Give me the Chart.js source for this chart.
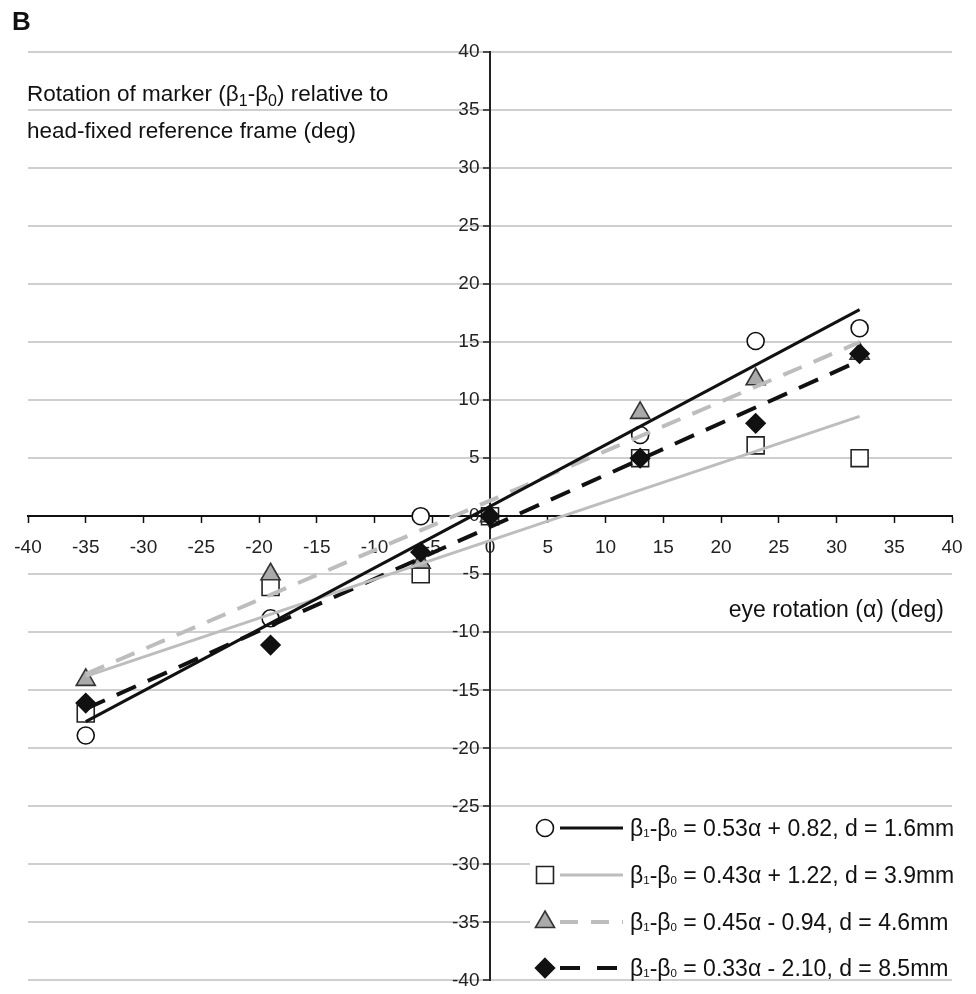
<!DOCTYPE html>
<html>
<head>
<meta charset="utf-8">
<script src="https://cdn.jsdelivr.net/npm/chart.js@4.4.1/dist/chart.umd.min.js"></script>
<style>
  html,body{margin:0;padding:0;background:#fff;}
  #wrap{width:976px;height:994px;}
</style>
</head>
<body>
<div id="wrap"><canvas id="chart" width="976" height="994"></canvas></div>
<script>
/* eye rotation vs marker rotation – panel B */

// eye rotation (alpha) where the markers sit
const alphaVals   = [-35, -19, -6, 0, 13, 23, 32];
// marker rotation per recording
const circleVals  = [-18.9, -8.8, 0, 0, 7, 15.1, 16.2];
const squareVals  = [-17, -6.1, -5, 0, 5, 6.1, 5];
const triVals     = [-14.1, -5, -4, 0, 8.9, 11.8, 14];
const diamondVals = [-16.1, -11.1, -3.1, 0, 5, 8, 14];

// fitted lines, end points as drawn
const fitX        = [-35, 32];
const fitBlack    = [-17.7, 17.8];
const fitGray     = [-13.8, 8.6];
const fitGrayDash = [-13.6, 15.0];
const fitBlackDash= [-16.6, 13.4];

const ticksX = [-40,-35,-30,-25,-20,-15,-10,-5,0,5,10,15,20,25,30,35,40];
const ticksY = [-40,-35,-30,-25,-20,-15,-10,-5,0,5,10,15,20,25,30,35,40];

const legendLabels = [
  '= 0.53\u03b1 + 0.82, d = 1.6mm',
  '= 0.43\u03b1 + 1.22, d = 3.9mm',
  '= 0.45\u03b1 - 0.94, d = 4.6mm',
  '= 0.33\u03b1 - 2.10, d = 8.5mm'
];

const FONT='"Liberation Sans", Arial, sans-serif';
const pts=v=>alphaVals.map((a,i)=>({x:a,y:v[i]}));
const fit=v=>fitX.map((a,i)=>({x:a,y:v[i]}));

const GRAY='#bdbdbd';

function markerDs(label,vals,style,r,bg,bd,order){
  return {label,data:pts(vals),pointStyle:style,pointRadius:r,pointHoverRadius:r,
    backgroundColor:bg,borderColor:bd,borderWidth:1.6,showLine:false,order};
}
function lineDs(label,vals,color,w,dash){
  return {label,data:fit(vals),showLine:true,borderColor:color,borderWidth:w,
    borderDash:dash||[],pointRadius:0,pointHoverRadius:0,fill:false,order:1};
}

/* rich text with subscripts */
function richText(ctx,parts,x,y,size,subSize,subDy){
  for(const p of parts){
    ctx.font=(p.sub?subSize:size)+'px '+FONT;
    ctx.fillText(p.t,x,y+(p.sub?subDy:0));
    x+=ctx.measureText(p.t).width;
  }
  return x;
}

function drawMarker(ctx,style,x,y,r,bg,bd){
  ctx.save();ctx.fillStyle=bg;ctx.strokeStyle=bd;ctx.lineWidth=1.6;ctx.beginPath();
  if(style==='circle'){ctx.arc(x,y,r,0,Math.PI*2);}
  else if(style==='rect'){const s=Math.SQRT1_2*r;ctx.rect(x-s,y-s,2*s,2*s);}
  else if(style==='triangle'){
    ctx.moveTo(x,y-r);ctx.lineTo(x+r*Math.cos(Math.PI/6),y+r/2);ctx.lineTo(x-r*Math.cos(Math.PI/6),y+r/2);ctx.closePath();
  }
  else {ctx.moveTo(x,y-r);ctx.lineTo(x+r,y);ctx.lineTo(x,y+r);ctx.lineTo(x-r,y);ctx.closePath();}
  ctx.fill();ctx.stroke();ctx.restore();
}

const decor={
  id:'decor',
  afterDraw(chart){
    const ctx=chart.ctx;
    ctx.save();
    ctx.fillStyle='#111';ctx.textBaseline='alphabetic';ctx.textAlign='left';
    ctx.font='bold 26px '+FONT;
    ctx.fillText('B',12,30);
    richText(ctx,[{t:'Rotation of marker (\u03b2'},{t:'1',sub:true},{t:'-\u03b2'},{t:'0',sub:true},{t:') relative to'}],27,101,22.5,16,5);
    richText(ctx,[{t:'head-fixed reference frame (deg)'}],27,138,22.5,16,5);
    ctx.font='23px '+FONT;ctx.textAlign='right';
    ctx.fillText('eye rotation (\u03b1) (deg)',944,617);
    ctx.textAlign='left';

    // legend
    ctx.fillStyle='#fff';
    ctx.fillRect(530,812,428,166);
    const rows=[828,875,922,968];
    const mk=[['circle',8.5,'#fff','#111'],['rect',12,'#fff','#222'],['triangle',11,'#aaa','#333'],['rectRot',9.5,'#111','#111']];
    const ln=[['#111',3,[]],[GRAY,3,[]],[GRAY,4,[18,13]],['#111',4,[20,17]]];
    rows.forEach((y,i)=>{
      drawMarker(ctx,mk[i][0],545,y,mk[i][1],mk[i][2],mk[i][3]);
      ctx.save();ctx.strokeStyle=ln[i][0];ctx.lineWidth=ln[i][1];ctx.setLineDash(ln[i][2]);
      ctx.beginPath();ctx.moveTo(560,y);ctx.lineTo(623,y);ctx.stroke();ctx.restore();
      ctx.fillStyle='#111';
      richText(ctx,[{t:'\u03b2'},{t:'1',sub:true},{t:'-\u03b2'},{t:'0',sub:true},{t:' '+legendLabels[i]}],630,y+8,23,11.5,1);
    });
    ctx.restore();
  }
};

new Chart(document.getElementById('chart'),{
  type:'scatter',
  data:{datasets:[
    lineDs('fit circle',fitBlack,'#111',3),
    lineDs('fit square',fitGray,GRAY,3),
    lineDs('fit triangle',fitGrayDash,GRAY,4,[20,13]),
    lineDs('fit diamond',fitBlackDash,'#111',4,[21,13]),
    markerDs('d = 8.5mm',diamondVals,'rectRot',9.5,'#111','#111',2),
    markerDs('d = 4.6mm',triVals,'triangle',11,'#aaa','#333',3),
    markerDs('d = 3.9mm',squareVals,'rect',12,'#fff','#222',4),
    markerDs('d = 1.6mm',circleVals,'circle',8.5,'#fff','#111',5)
  ]},
  options:{
    responsive:false,animation:false,devicePixelRatio:1,locale:'en-US',
    layout:{padding:{left:28,right:24,top:52,bottom:11}},
    plugins:{legend:{display:false},tooltip:{enabled:false}},
    scales:{
      x:{type:'linear',min:-40,max:40,position:{y:0},
        afterBuildTicks:s=>{s.ticks=ticksX.map(v=>({value:v}));},
        // tall line box pushes the labels down without widening the side padding
        ticks:{font:{family:FONT,size:19,lineHeight:2.1},color:'#222',padding:6,maxRotation:0,autoSkip:false},
        grid:{drawOnChartArea:false,drawTicks:true,tickLength:6,tickColor:'#111',tickWidth:1.5},
        border:{color:'#111',width:2}},
      y:{type:'linear',min:-40,max:40,position:{x:0},
        afterBuildTicks:s=>{s.ticks=ticksY.map(v=>({value:v}));},
        // labels sit right-aligned on the centred axis, so push them off it
        ticks:{font:{family:FONT,size:19,lineHeight:1},color:'#222',padding:0,autoSkip:false,
          callback:v=>v+'  '},
        grid:{color:c=>c.tick&&c.tick.value===0?'#111':'#cfcfcf',lineWidth:2,tickLength:6,tickColor:'#222',tickWidth:1.5},
        border:{color:'#222',width:2}}
    }
  },
  plugins:[decor]
});
</script>
</body>
</html>
